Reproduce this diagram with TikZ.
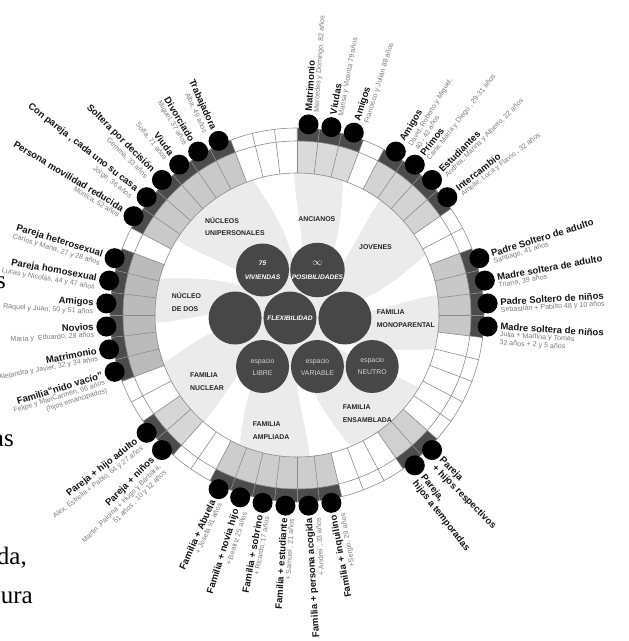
\documentclass[tikz,border=0pt]{standalone}
\usepackage{fontspec}
\setmainfont{Liberation Sans}
\newfontfamily\pagefont{Liberation Serif}
\usepackage{tikz}
\usetikzlibrary{positioning, calc}

\definecolor{hubgray}{HTML}{474747}
\definecolor{bandgray}{HTML}{4B4B4B}
\definecolor{diskgray}{HTML}{EBEBEB}
\definecolor{linegray}{HTML}{8C8C8C}
\definecolor{subgray}{HTML}{7A7A7A}
\definecolor{uniGray}{HTML}{C9C9C9}
\definecolor{ancGray}{HTML}{DADADA}
\definecolor{jovGray}{HTML}{D3D3D3}
\definecolor{monoGray}{HTML}{C8C8C8}
\definecolor{ensGray}{HTML}{D0D0D0}
\definecolor{ampGray}{HTML}{CDCDCD}
\definecolor{nucGray}{HTML}{D6D6D6}
\definecolor{dosGray}{HTML}{BBBBBB}

\begin{document}
\begin{tikzpicture}[
		x=1pt, y=1pt,
		ring/.style={draw=linegray, line width=0.6pt},
		dot/.style={circle, fill=black, minimum size=20pt, inner sep=0pt},
		hub/.style={circle, fill=hubgray, minimum size=53pt, inner sep=0pt, align=center, text=white, font=\fontsize{6.6}{14}\selectfont\bfseries\itshape},
		spacehub/.style={hub, text=white!82!black, font=\fontsize{6.9}{12}\selectfont},
		group/.style={anchor=west, align=left, inner sep=0pt, text=black!85, font=\fontsize{6.9}{12.5}\selectfont\bfseries},
		lblR/.style={anchor=mid west, inner sep=0.6pt, text=black!92, font=\fontsize{9.5}{10.5}\selectfont\bfseries},
		lblL/.style={lblR, anchor=mid east},
		subR/.style={anchor=north west, align=left, inner sep=0.6pt, text=subgray, font=\fontsize{7.1}{8.2}\selectfont},
		subL/.style={subR, anchor=north east, align=right},
		fragment/.style={anchor=east, inner sep=0pt, font=\pagefont\fontsize{25}{27}\selectfont}
		]

		\useasboundingbox (-297,315) rectangle (332,-326);

		\fill[diskgray] (0,0) circle (142);
		\begin{scope}
			\clip (0,0) circle (142);
			\foreach \s in {100,63,17,-22,-76,-122,-168,157}
				\fill[white] (\s-18:45) .. controls (\s-14:90) and (\s-8:120) .. (\s-9:150) -- (\s+9:150) .. controls (\s+4:115) and (\s-4:85) .. (\s-8:45) -- cycle;
		\end{scope}

		\foreach \ks/\col in {{16,17,18,19,20,21}/uniGray, {10,11,12}/ancGray, {5,6,7,8}/jovGray, {-1,0,1,2}/monoGray, {-8,-7}/ensGray, {-17,-16,-15,-14,-13,-12}/ampGray, {-21,-20}/nucGray, {23,24,25,26,27,28}/dosGray}{
			\foreach \k in \ks {
				\pgfmathsetmacro\aa{6.923077*\k}
				\pgfmathsetmacro\ab{6.923077*(\k+1)}
				\fill[\col] (\aa:142) arc[start angle=\aa, end angle=\ab, radius=142] -- (\ab:174) arc[start angle=\ab, end angle=\aa, radius=174] -- cycle;
				\fill[bandgray] (\aa:174) arc[start angle=\aa, end angle=\ab, radius=174] -- (\ab:187) arc[start angle=\ab, end angle=\aa, radius=187] -- cycle;
			}
		}
		\draw[ring] (0,0) circle (142) circle (174) circle (187);
		\foreach \k in {0,...,51}
			\draw[ring] (6.923077*\k:142) -- (6.923077*\k:187);

		\foreach \k/\t/\s in {12/Matrimonio/{Mercedes y Domingo, 82 años}, 11/Viudas/{Marisa y Vicenta 79 años}, 10/Amigos/{Francisco y Julián 88 años},
				8/Amigos/{David, Roberto y Miguel,\\40 - 42 años}, 7/Primos/{Carla, María y Diego , 29-31 años}, 6/Estudiantes/{Andrea, Marina y Alberto, 22 años}, 5/Intercambio/{Amelie, Luca y Flavio , 32 años},
				2/Padre Soltero de adulto/{Santiago, 41 años}, 1/Madre soltera de adulto/{Triana, 39 años}, 0/Padre Soltero de niños/{Sebastián + Pablito 48 y 10 años}, -1/Madre soltera de niños/{Julia + Martina y Tomas\\32 años + 2 y 5 años}}{
			\pgfmathsetmacro\a{6.923077*(\k+0.5)}
			\node[dot] (d\k) at (\a:191) {};
			\node[lblR, rotate=\a] (l\k) at ([shift={(\a:12)}]d\k.center) {\t};
			\node[subR, rotate=\a] (s\k) at (l\k.south west) {\s};
		}

		\foreach \k/\t/\s in {-7/Pareja/{+ hijos respectivos}, -8/{Pareja,}/{hijos a temporadas}}{
			\pgfmathsetmacro\a{6.923077*(\k+0.5)}
			\node[dot] (d\k) at (\a:191) {};
			\node[lblR, rotate=\a] (l\k) at ([shift={(\a:12)}]d\k.center) {\t};
			\node[lblR, anchor=north west, rotate=\a] (s\k) at (l\k.south west) {\s};
		}

		\foreach \k/\t/\s in {16/Trabajadora/{Alba, 49 años}, 17/Divorciado/{Miguel, 37 años}, 18/Viuda/{Sofía, 71 años}, 19/Soltera por decisión/{Gemma, 33 años}, 20/{Con pareja , cada uno su casa}/{Jorge, 36 años}, 21/Persona movilidad reducida/{Mónica, 52 años},
				23/Pareja heterosexual/{Carlos y Marta, 27 y 28 años}, 24/Pareja homosexual/{Lucas y Nicolás, 44 y 47 años}, 25/Amigos/{Raquel y Juan, 50 y 51 años}, 26/Novios/{María y \ Eduardo, 28 años}, 27/Matrimonio/{Alejandra y Javier, 32 y 34 años}, 28/Familia“nido vacío”/{Felipe y MariCarmen, 66 años\\(hijos emancipados)},
				-21/Pareja + hijo adulto/{Alex, Estrella + Pablo, 64 y 27 años}, -20/Pareja + niños/{Martin ,Paloma + Hugo y Bárbara,\\51 años , 10 y 12 años},
				-17/Familia + Abuela/{+ Josefa 91 años}, -16/Familia + novia hijo/{+ Beatriz 25 años}, -15/Familia + sobrino/{+ Ricardo, 17 años}, -14/Familia + estudiante/{+ Samuel , 21 años}, -13/Familia + persona acogida/{+ Andrei , 33 años}, -12/Familia + inquilino/{+Sergio, 29 años}}{
			\pgfmathsetmacro\a{6.923077*(\k+0.5)}
			\pgfmathsetmacro\b{\a+180}
			\node[dot] (d\k) at (\a:191) {};
			\node[lblL, rotate=\b] (l\k) at ([shift={(\a:12)}]d\k.center) {\t};
			\node[subL, rotate=\b] (s\k) at (l\k.south east) {\s};
		}

		\node[hub] (flex) at (-7,-3) {FLEXIBILIDAD};
		\node[hub, left=1.5pt of flex] (hubL) {};
		\node[hub, right=1.5pt of flex] (hubR) {};
		\node[hub] (viv) at ($(hubL)!0.5!(flex)+(0,48)$) {75\\VIVIENDAS};
		\node[hub] (pos) at ($(flex)!0.5!(hubR)+(0,48)$) {{\fontsize{10}{10}\selectfont$\infty$}\\POSIBILIDADES};
		\node[spacehub] (libre) at ($(hubL)!0.5!(flex)+(0,-48.5)$) {espacio\\LIBRE};
		\node[spacehub] (variable) at ($(flex)!0.5!(hubR)+(0,-48.5)$) {espacio\\VARIABLE};
		\node[spacehub] (neutro) at ($(hubR)+(27.3,-48.5)$) {espacio\\NEUTRO};

		\node[group] (uni) at (-92,88.5) {NÚCLEOS\\UNIPERSONALES};
		\node[group] (anc) at (1.3,96) {ANCIANOS};
		\node[group] (jov) at (62,67.7) {JOVENES};
		\node[group] (dos) at (-125.3,12.8) {NÚCLEO\\DE DOS};
		\node[group] (mono) at (79.7,-3.8) {FAMILIA\\MONOPARENTAL};
		\node[group] (nuc) at (-107,-66.7) {FAMILIA\\NUCLEAR};
		\node[group] (ens) at (45.7,-98.7) {FAMILIA\\ENSAMBLADA};
		\node[group] (amp) at (-44.3,-115.8) {FAMILIA\\AMPLIADA};

		\node[fragment] (frag1) at (-291,32) {s};
		\node[fragment] (frag2) at (-283,-126) {as};
		\node[fragment] (frag3) at (-270,-243) {da,};
		\node[fragment] (frag4) at (-264,-283) {ura};
	\end{tikzpicture}
\end{document}
